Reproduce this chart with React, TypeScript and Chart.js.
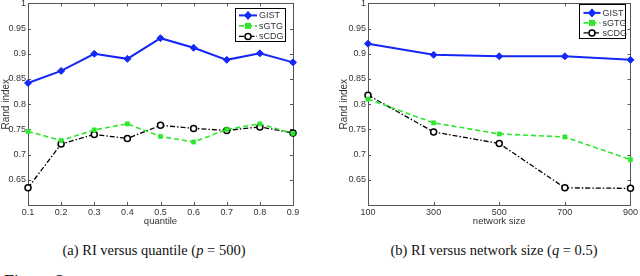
import React, { useEffect, useRef } from "react";
import { Chart, registerables } from "chart.js";

Chart.register(...registerables);

// ---- data ----
const quantiles = [0.1, 0.2, 0.3, 0.4, 0.5, 0.6, 0.7, 0.8, 0.9];
const gistQ = [0.842, 0.866, 0.900, 0.890, 0.931, 0.912, 0.888, 0.901, 0.883];
const sgtgQ = [0.746, 0.728, 0.749, 0.761, 0.736, 0.725, 0.750, 0.761, 0.742];
const scdgQ = [0.634, 0.721, 0.740, 0.732, 0.758, 0.752, 0.748, 0.755, 0.743];

const sizes = [100, 300, 500, 700, 900];
const gistS = [0.920, 0.898, 0.895, 0.895, 0.888];
const sgtgS = [0.810, 0.763, 0.741, 0.735, 0.690];
const scdgS = [0.818, 0.745, 0.722, 0.634, 0.633];

const yTicks = [0.6, 0.65, 0.7, 0.75, 0.8, 0.85, 0.9, 0.95, 1];
const seriesNames = ["GIST", "sGTG", "sCDG"];

const BLUE = "#1428f5";
const GREEN = "#2ee62e";
const BLACK = "#000000";
const AXIS = "#555555";
const TXT = "#333333";
const FONT = "'Liberation Sans', Arial, sans-serif";

type LegendCfg = { right: number; top: number; w: number; h: number; rows: number[]; sampleX: number; sampleLen: number; textX: number };

function drawMarker(ctx: CanvasRenderingContext2D, kind: string, x: number, y: number) {
  ctx.save();
  ctx.setLineDash([]);
  if (kind === "diamond") {
    ctx.fillStyle = BLUE;
    ctx.strokeStyle = BLUE;
    ctx.lineWidth = 1;
    ctx.beginPath();
    ctx.moveTo(x, y - 4);
    ctx.lineTo(x + 3.5, y);
    ctx.lineTo(x, y + 4);
    ctx.lineTo(x - 3.5, y);
    ctx.closePath();
    ctx.fill();
    ctx.stroke();
  } else if (kind === "square") {
    ctx.fillStyle = GREEN;
    ctx.fillRect(x - 3, y - 3, 6, 6);
  } else {
    ctx.fillStyle = "#ffffff";
    ctx.strokeStyle = BLACK;
    ctx.lineWidth = 1.5;
    ctx.beginPath();
    ctx.arc(x, y, 3, 0, Math.PI * 2);
    ctx.fill();
    ctx.stroke();
  }
  ctx.restore();
}

function makeFramePlugin(xTicks: number[]) {
  return {
    id: "matlabFrame",
    beforeDatasetsDraw(chart: any) {
      const { ctx, chartArea: a, scales } = chart;
      ctx.save();
      ctx.strokeStyle = AXIS;
      ctx.lineWidth = 1;
      ctx.setLineDash([]);
      ctx.strokeRect(Math.round(a.left) + 0.5, Math.round(a.top) + 0.5, Math.round(a.right - a.left), Math.round(a.bottom - a.top));
      ctx.beginPath();
      for (const v of yTicks) {
        const y = Math.round(scales.y.getPixelForValue(v)) + 0.5;
        ctx.moveTo(a.left, y);
        ctx.lineTo(a.left + 3, y);
        ctx.moveTo(a.right, y);
        ctx.lineTo(a.right - 3, y);
      }
      for (const v of xTicks) {
        const x = Math.round(scales.x.getPixelForValue(v)) + 0.5;
        ctx.moveTo(x, a.bottom);
        ctx.lineTo(x, a.bottom - 3);
        ctx.moveTo(x, a.top);
        ctx.lineTo(x, a.top + 3);
      }
      ctx.stroke();
      ctx.restore();
    },
  };
}

function makeLegendPlugin(cfg: LegendCfg) {
  return {
    id: "matlabLegend",
    afterDraw(chart: any) {
      const { ctx, chartArea: a } = chart;
      const x0 = a.right - cfg.right - cfg.w;
      const y0 = a.top + cfg.top;
      ctx.save();
      ctx.fillStyle = "#ffffff";
      ctx.fillRect(x0, y0, cfg.w, cfg.h);
      ctx.strokeStyle = BLACK;
      ctx.lineWidth = 1;
      ctx.strokeRect(Math.round(x0) + 0.5, Math.round(y0) + 0.5, cfg.w, cfg.h);
      const kinds = ["diamond", "square", "circle"];
      chart.data.datasets.forEach((ds: any, i: number) => {
        const y = y0 + cfg.rows[i];
        const sx = x0 + cfg.sampleX;
        ctx.strokeStyle = ds.borderColor;
        ctx.lineWidth = ds.borderWidth;
        ctx.setLineDash(ds.borderDash || []);
        ctx.beginPath();
        ctx.moveTo(sx, y);
        ctx.lineTo(sx + cfg.sampleLen, y);
        ctx.stroke();
        ctx.setLineDash([]);
        drawMarker(ctx, kinds[i], sx + cfg.sampleLen / 2, y);
        ctx.fillStyle = TXT;
        ctx.font = `9px ${FONT}`;
        ctx.textBaseline = "middle";
        ctx.textAlign = "left";
        ctx.fillText(ds.label, x0 + cfg.textX, y + 0.5);
      });
      ctx.restore();
    },
  };
}

function makeDatasets(xs: number[], g: number[], s: number[], c: number[]) {
  return [
    {
      label: seriesNames[0],
      data: xs.map((x, i) => ({ x, y: g[i] })),
      borderColor: BLUE,
      backgroundColor: BLUE,
      borderWidth: 2,
      pointStyle: "rectRot",
      pointRadius: 3.5,
      pointBackgroundColor: BLUE,
      pointBorderColor: BLUE,
      pointBorderWidth: 1,
    },
    {
      label: seriesNames[1],
      data: xs.map((x, i) => ({ x, y: s[i] })),
      borderColor: GREEN,
      backgroundColor: GREEN,
      borderWidth: 1.6,
      borderDash: [5, 3],
      pointStyle: "rect",
      pointRadius: 3,
      pointBackgroundColor: GREEN,
      pointBorderColor: GREEN,
      pointBorderWidth: 0.5,
    },
    {
      label: seriesNames[2],
      data: xs.map((x, i) => ({ x, y: c[i] })),
      borderColor: BLACK,
      backgroundColor: "#ffffff",
      borderWidth: 1.3,
      borderDash: [5, 2, 1.5, 2],
      pointStyle: "circle",
      pointRadius: 3,
      pointBackgroundColor: "#ffffff",
      pointBorderColor: BLACK,
      pointBorderWidth: 1.5,
    },
  ];
}

type PanelProps = {
  xs: number[];
  g: number[];
  s: number[];
  c: number[];
  xTitle: string;
  xFmt: (v: number) => string;
  padLeft: number;
  padRight: number;
  yWidth: number;
  legend: LegendCfg;
};

function Panel(p: PanelProps) {
  const ref = useRef<HTMLCanvasElement>(null);
  useEffect(() => {
    if (!ref.current) return;
    const chart = new Chart(ref.current, {
      type: "line",
      data: { datasets: makeDatasets(p.xs, p.g, p.s, p.c) as any },
      options: {
        animation: false,
        responsive: false,
        maintainAspectRatio: false,
        clip: false as any,
        layout: { padding: { left: p.padLeft, right: p.padRight, top: 0, bottom: 0 } },
        plugins: { legend: { display: false }, tooltip: { enabled: false }, title: { display: false } },
        elements: { line: { tension: 0 } },
        scales: {
          x: {
            type: "linear",
            min: p.xs[0],
            max: p.xs[p.xs.length - 1],
            grid: { display: false, drawTicks: false },
            border: { display: false },
            afterBuildTicks: (sc: any) => {
              sc.ticks = p.xs.map((v) => ({ value: v }));
            },
            afterFit: (sc: any) => {
              sc.height = 25;
            },
            ticks: {
              padding: 2,
              autoSkip: false,
              maxRotation: 0,
              color: TXT,
              font: { size: 9, family: FONT },
              callback: (v: any) => p.xFmt(Number(v)),
            },
            title: {
              display: true,
              text: p.xTitle,
              color: TXT,
              padding: { top: 0, bottom: 3 },
              font: { size: 9.5, family: FONT },
            },
          },
          y: {
            type: "linear",
            min: 0.6,
            max: 1,
            grid: { display: false, drawTicks: false },
            border: { display: false },
            afterBuildTicks: (sc: any) => {
              sc.ticks = yTicks.map((v) => ({ value: v }));
            },
            afterFit: (sc: any) => {
              sc.width = p.yWidth;
            },
            ticks: {
              padding: 2,
              autoSkip: false,
              color: TXT,
              font: { size: 9, family: FONT },
              callback: (v: any) => {
                const n = Number(v);
                if (Math.abs(n - 0.6) < 1e-6) return "";
                return String(Number(n.toFixed(2)));
              },
            },
            title: {
              display: true,
              text: "Rand index",
              color: TXT,
              padding: { top: 0, bottom: 0 },
              font: { size: 10, family: FONT },
            },
          },
        },
      },
      plugins: [makeFramePlugin(p.xs), makeLegendPlugin(p.legend)],
    });
    return () => chart.destroy();
  }, []);
  return <canvas ref={ref} width={320} height={234} style={{ width: 320, height: 234, display: "block" }} />;
}

const captionStyle: React.CSSProperties = {
  position: "absolute",
  top: 242,
  width: 320,
  textAlign: "center",
  fontFamily: "'Liberation Serif', 'Times New Roman', serif",
  fontSize: 14.5,
  lineHeight: "16px",
  color: "#111",
  whiteSpace: "nowrap",
};

export default function App() {
  return (
    <div style={{ position: "absolute", left: 0, top: 0, width: 640, height: 276, overflow: "hidden", background: "#fff" }}>
      <div style={{ position: "absolute", left: 0, top: -4 }}>
        <Panel
          xs={quantiles}
          g={gistQ}
          s={sgtgQ}
          c={scdgQ}
          xTitle="quantile"
          xFmt={(v) => v.toFixed(1)}
          padLeft={0}
          padRight={27}
          yWidth={28}
          legend={{ right: 8, top: 5, w: 50, h: 33, rows: [7, 17.5, 28], sampleX: 4, sampleLen: 18, textX: 24 }}
        />
      </div>
      <div style={{ position: "absolute", left: 320, top: -4 }}>
        <Panel
          xs={sizes}
          g={gistS}
          s={sgtgS}
          c={scdgS}
          xTitle="network size"
          xFmt={(v) => String(v)}
          padLeft={18}
          padRight={7}
          yWidth={30}
          legend={{ right: 5, top: 1, w: 46, h: 34, rows: [8.5, 18.5, 28.5], sampleX: 4, sampleLen: 17, textX: 23 }}
        />
      </div>
      <div style={{ ...captionStyle, left: -6 }}>
        (a) RI versus quantile (<i>p</i> = 500)
      </div>
      <div style={{ ...captionStyle, left: 334 }}>
        (b) RI versus network size (<i>q</i> = 0.5)
      </div>
      <div
        style={{
          position: "absolute",
          left: 4,
          top: 272,
          fontFamily: "'Liberation Serif', 'Times New Roman', serif",
          fontSize: 18,
          lineHeight: "20px",
          color: "#111",
          whiteSpace: "nowrap",
        }}
      >
        Figure 2:
      </div>
    </div>
  );
}
